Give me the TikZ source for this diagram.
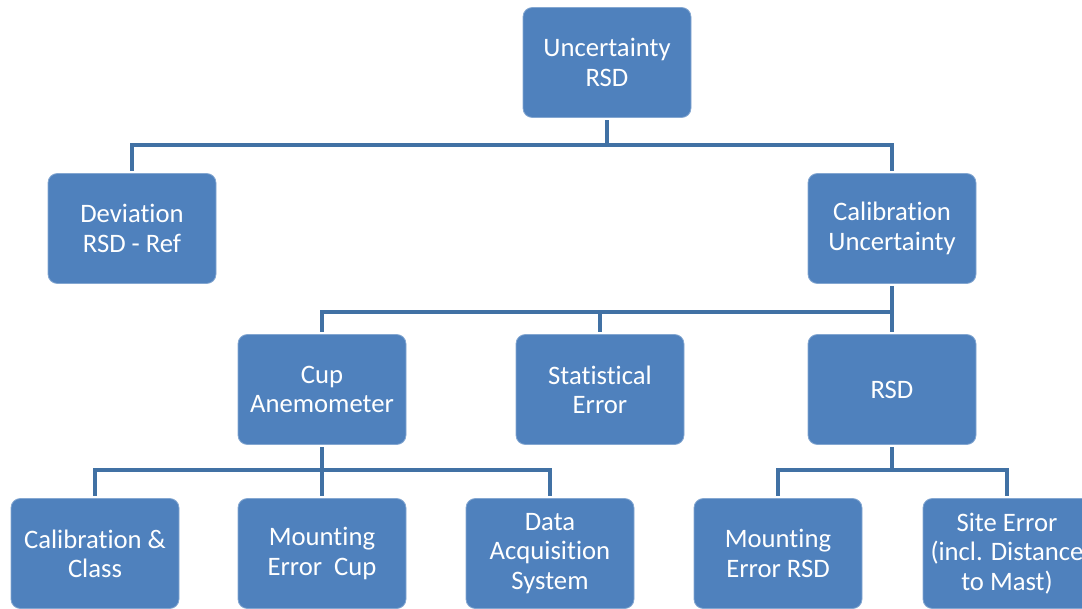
\documentclass[tikz,border=0pt]{standalone}
\usepackage{fontspec}
\setmainfont{Carlito}[Ligatures=NoCommon]
\definecolor{cbox}{RGB}{79,129,189}
\definecolor{cline}{RGB}{65,113,164}
\tikzset{px/.style={x=0.75pt,y=-0.75pt}}
\tikzset{box/.style={fill=cbox,draw=cbox!70!white,line width=0.6pt,rounded corners=7pt,
                     minimum width=126pt,minimum height=82.5pt,align=center,text=white,
                     outer sep=2pt,font=\fontsize{20}{22}\selectfont},
         link/.style={cline,line width=3pt}}

\begin{document}
\begin{tikzpicture}[px]
    \useasboundingbox (0,0) rectangle (1082,608);
    \clip (0,0) rectangle (1082,608);
    % boxes
    \node[box] (top)  at (607,62.5)  {Uncertainty\\RSD};
    \node[box] (dev)  at (132,228.5) {Deviation\\RSD - Ref};
    \node[box] (cal)  at (892,228.5) {Calibration\\Uncertainty};
    \node[box] (cup)  at (322,389.5) {Cup\\Anemometer};
    \node[box] (stat) at (600,389.5) {Statistical\\Error};
    \node[box] (rsd)  at (892,389.5) {RSD};
    \node[box] (calc) at (95,553.5)  {Calibration \&\\Class};
    \node[box] (mcup) at (322,553.5) {Mounting\\Error\ \ Cup};
    \node[box] (daq)  at (550,553.5) {Data\\Acquisition\\System};
    \node[box] (mrsd) at (778,553.5) {Mounting\\Error RSD};
    \node[box] (site) at (1007,553.5) {Site Error\\(incl. Distance\\to Mast)};
    % bus points
    \coordinate (b1) at (607,145);
    \coordinate (b2) at (892,312);
    \coordinate (b3l) at (322,470);
    \coordinate (b3r) at (892,470);
    % connectors
    \draw[link] (top.south) -- (b1);
    \draw[link] (b1) -| (dev.north);
    \draw[link] (b1) -| (cal.north);
    \draw[link] (cal.south) -- (rsd.north);
    \draw[link] (b2) -| (cup.north);
    \draw[link] (b2) -| (stat.north);
    \draw[link] (cup.south) -- (mcup.north);
    \draw[link] (b3l) -| (calc.north);
    \draw[link] (b3l) -| (daq.north);
    \draw[link] (rsd.south) -- (b3r);
    \draw[link] (b3r) -| (mrsd.north);
    \draw[link] (b3r) -| (site.north);
  \end{tikzpicture}
\end{document}
